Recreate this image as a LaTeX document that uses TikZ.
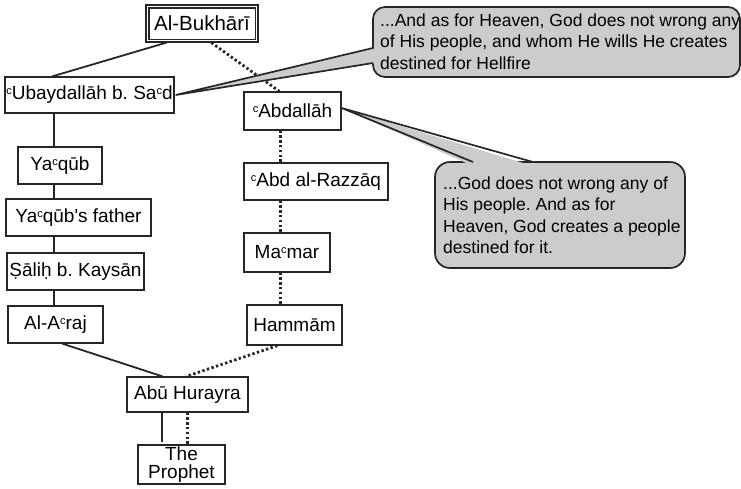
\documentclass[tikz,border=0pt]{standalone}
\usepackage{fontspec}
\setmainfont{Liberation Sans}
\usetikzlibrary{calc}
\frenchspacing
\newcommand{\ain}{\raisebox{0.5ex}{\fontsize{11}{11}\selectfont c}}
\tikzset{
  namebox/.style={draw=black!85, line width=1.3pt, inner sep=0pt, align=center,
    font=\fontsize{19}{19}\selectfont},
  solidlink/.style={draw=black!85, line width=1.8pt},
  dotlink/.style={draw=black!85, line width=2.8pt, line cap=butt, dash pattern=on 2.4pt off 2.4pt},
  callout/.style={draw=black!85, line width=1.7pt, fill=gray!40},
  callouttext/.style={anchor=north west, inner sep=0pt, align=left,
    font=\fontsize{17.5}{21.5}\selectfont}
}
\begin{document}
\begin{tikzpicture}[x=1pt,y=-1pt]
\useasboundingbox (0,0) rectangle (741,488);

% nodes
\node[namebox, minimum width=112pt, minimum height=37pt, font=\fontsize{20.5}{20}\selectfont] (bukhari) at (202,23.5) {Al-Bukhārī};
\draw[black!85, line width=1.3pt] ([shift={(3.5,3.5)}]bukhari.north west) rectangle ([shift={(-3.5,-3.5)}]bukhari.south east);
\node[namebox, minimum width=169pt, minimum height=36pt] (ubayd) at (89.5,95) {\ain Ubaydallāh b. Sa\ain d};
\node[namebox, minimum width=97pt, minimum height=38pt] (abdallah) at (292.5,111) {\ain Abdallāh};
\node[namebox, minimum width=144pt, minimum height=37pt] (razzaq) at (316,181.5) {\ain Abd al-Razzāq};
\node[namebox, minimum width=86pt, minimum height=39pt] (mamar) at (287,252.5) {Ma\ain mar};
\node[namebox, minimum width=95pt, minimum height=40pt] (hammam) at (294.5,325) {Hammām};
\node[namebox, minimum width=84pt, minimum height=37pt] (yaqub) at (60,165.5) {Ya\ain qūb};
\node[namebox, minimum width=145pt, minimum height=37pt] (father) at (78.5,217.5) {Ya\ain qūb\textquotesingle s father};
\node[namebox, minimum width=137pt, minimum height=37pt] (salih) at (75.5,271.5) {Ṣāliḥ b. Kaysān};
\node[namebox, minimum width=95pt, minimum height=37pt] (araj) at (55.5,324.5) {Al-A\ain raj};
\node[namebox, minimum width=121pt, minimum height=35pt] (abu) at (187.5,394.5) {Abū Hurayra};
\node[namebox, minimum width=87pt, minimum height=39pt, font=\fontsize{19}{18}\selectfont] (prophet) at (181.5,464.5) {The\\Prophet};

% solid chain
\draw[solidlink] ([xshift=21pt]bukhari.south west) -- ([xshift=48pt]ubayd.north west);
\draw[solidlink] ([xshift=50pt]ubayd.south west) -- ([xshift=37pt]yaqub.north west);
\draw[solidlink] ([xshift=37pt]yaqub.south west) -- ([xshift=49pt]father.north west);
\draw[solidlink] ([xshift=49pt]father.south west) -- ([xshift=48pt]salih.north west);
\draw[solidlink] ([xshift=48pt]salih.south west) -- ([xshift=47pt]araj.north west);
\draw[solidlink] ([xshift=55pt]araj.south west) -- ([xshift=36pt]abu.north west);
\draw[solidlink] ([xshift=36pt]abu.south west) -- ([shift={(25pt,2pt)}]prophet.north west);

% dotted chain
\draw[dotlink] ([xshift=66pt]bukhari.south west) -- ([xshift=36pt]abdallah.north west);
\draw[dotlink] ([xshift=37pt]abdallah.south west) -- ([xshift=37pt]razzaq.north west);
\draw[dotlink] ([xshift=37pt]razzaq.south west) -- ([xshift=37pt]mamar.north west);
\draw[dotlink] ([xshift=37pt]mamar.south west) -- ([xshift=34pt]hammam.north west);
\draw[dotlink] ([xshift=31pt]hammam.south west) -- ([xshift=60pt]abu.north west);
\draw[dotlink] ([xshift=61pt]abu.south west) -- ([xshift=50pt]prophet.north west);

% callout 1
\coordinate (tipA) at ([xshift=1pt]ubayd.east);
\coordinate (a1) at (373,48);
\coordinate (a2) at (373,63);
\draw[callout, rounded corners=12pt] (373,7) rectangle (740,77);
\fill[gray!40] (tipA) -- ($(a1)+(4,0)$) -- ($(a2)+(4,0)$) -- cycle;
\draw[black!85, line width=1.7pt, line join=miter] (a1) -- (tipA) -- (a2);
\node[callouttext] (textA) at (380,13.5) {...And as for Heaven, God does not wrong any\\of His people, and whom He wills He creates\\destined for Hellfire};

% callout 2
\coordinate (tipB) at ([yshift=3pt]abdallah.east);
\coordinate (b1) at (473,162);
\coordinate (b2) at (533,162);
\draw[callout, rounded corners=15pt] (435,162) rectangle (685,268);
\fill[gray!40] (tipB) -- ($(b1)+(0,4)$) -- ($(b2)+(0,4)$) -- cycle;
\draw[black!85, line width=1.7pt, line join=miter] (b1) -- (tipB) -- (b2);
\node[callouttext] (textB) at (443,176.5) {...God does not wrong any of\\His people. And as for\\Heaven, God creates a people\\destined for it.};
\end{tikzpicture}
\end{document}
